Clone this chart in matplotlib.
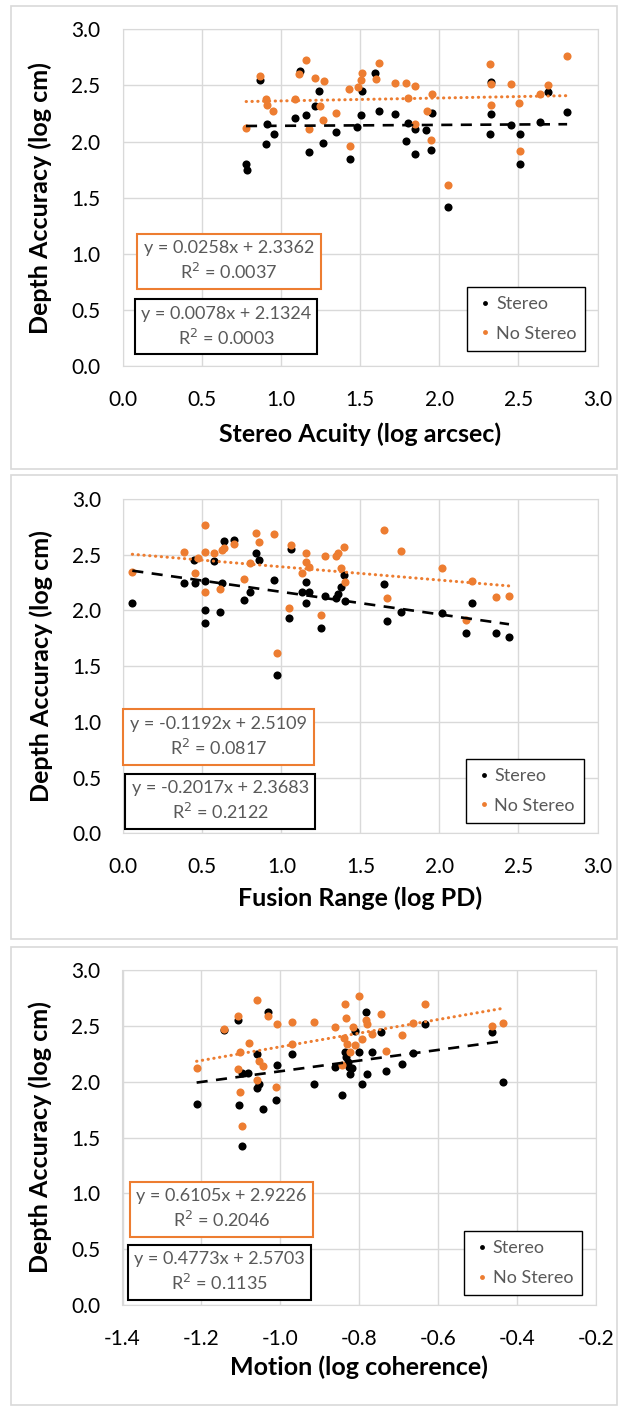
import matplotlib
matplotlib.use("Agg")
import matplotlib.pyplot as plt
from matplotlib.patches import Rectangle
import numpy as np

plt.rcParams['font.family'] = ['Lato', 'DejaVu Sans']

ORANGE = '#ED7D31'
GRAY_TXT = '#595959'
GRID = '#d9d9d9'

# ---- panel 1: stereo acuity ----
acuity_stereo_x = [0.779, 0.788, 0.865, 0.910, 0.905, 0.953, 1.088, 1.119, 1.158, 1.178,
                   1.214, 1.243, 1.268, 1.347, 1.437, 1.482, 1.505, 1.511, 1.597, 1.617,
                   1.721, 1.791, 1.800, 1.845, 1.849, 1.917, 1.948, 1.953, 2.054, 2.323,
                   2.326, 2.326, 2.452, 2.508, 2.511, 2.637, 2.687, 2.808]
acuity_stereo_y = [1.796, 1.749, 2.550, 2.157, 1.976, 2.065, 2.207, 2.627, 2.234, 1.905,
                   2.314, 2.450, 1.988, 2.086, 1.840, 2.130, 2.240, 2.450, 2.615, 2.269,
                   2.249, 2.003, 2.163, 1.885, 2.112, 2.107, 1.926, 2.254, 1.420, 2.069,
                   2.249, 2.527, 2.149, 2.069, 1.796, 2.173, 2.445, 2.261]
acuity_nostereo_x = [0.780, 0.866, 0.905, 0.914, 0.952, 1.087, 1.117, 1.157, 1.180, 1.216,
                     1.245, 1.263, 1.270, 1.347, 1.432, 1.439, 1.484, 1.507, 1.511, 1.599,
                     1.620, 1.723, 1.793, 1.802, 1.848, 1.848, 1.920, 1.951, 1.956, 2.057,
                     2.323, 2.326, 2.328, 2.452, 2.506, 2.510, 2.637, 2.686, 2.808]
acuity_nostereo_y = [2.121, 2.583, 2.380, 2.329, 2.270, 2.380, 2.598, 2.725, 2.111, 2.569,
                     2.320, 2.188, 2.542, 2.258, 2.468, 1.957, 2.486, 2.548, 2.613, 2.560,
                     2.696, 2.524, 2.524, 2.391, 2.494, 2.152, 2.276, 2.013, 2.424, 1.612,
                     2.687, 2.513, 2.329, 2.516, 2.341, 1.913, 2.427, 2.507, 2.763]

# ---- panel 2: fusion range ----
fusion_stereo_x = [0.057, 0.387, 0.451, 0.446, 0.519, 0.519, 0.519, 0.576, 0.612, 0.623,
                   0.637, 0.698, 0.761, 0.800, 0.838, 0.859, 0.952, 0.975, 1.049, 1.060,
                   1.133, 1.153, 1.158, 1.176, 1.251, 1.276, 1.344, 1.357, 1.380, 1.394,
                   1.405, 1.647, 1.668, 1.754, 2.014, 2.169, 2.209, 2.359, 2.440]
fusion_stereo_y = [2.069, 2.247, 2.247, 2.452, 2.262, 2.007, 1.885, 2.443, 1.986, 2.247,
                   2.621, 2.629, 2.096, 2.164, 2.517, 2.452, 2.271, 1.417, 1.930, 2.549,
                   2.161, 2.259, 2.066, 2.161, 1.838, 2.131, 2.114, 2.149, 2.208, 2.315,
                   2.087, 2.235, 1.903, 1.983, 1.977, 1.796, 2.069, 1.796, 1.761]
fusion_nostereo_x = [0.057, 0.387, 0.451, 0.474, 0.519, 0.519, 0.519, 0.576, 0.612, 0.623,
                     0.637, 0.698, 0.761, 0.800, 0.838, 0.859, 0.952, 0.974, 1.049, 1.060,
                     1.133, 1.153, 1.158, 1.176, 1.251, 1.276, 1.344, 1.357, 1.380, 1.394,
                     1.405, 1.647, 1.668, 1.754, 2.014, 2.169, 2.209, 2.359, 2.440]
fusion_nostereo_y = [2.345, 2.526, 2.333, 2.472, 2.763, 2.526, 2.161, 2.511, 2.191, 2.540,
                     2.561, 2.594, 2.280, 2.428, 2.695, 2.615, 2.689, 1.616, 2.019, 2.585,
                     2.333, 2.437, 2.517, 2.392, 1.959, 2.487, 2.490, 2.517, 2.383, 2.570,
                     2.259, 2.724, 2.114, 2.535, 2.380, 1.912, 2.268, 2.122, 2.131]

# ---- panel 3: motion coherence ----
motion_stereo_x = [-1.212, -1.143, -1.108, -1.105, -1.097, -1.096, -1.081, -1.060, -1.058, -1.055,
                   -1.044, -1.030, -1.010, -1.008, -0.971, -0.915, -0.861, -0.843, -0.837, -0.832,
                   -0.829, -0.826, -0.822, -0.819, -0.811, -0.799, -0.793, -0.782, -0.781, -0.768,
                   -0.745, -0.733, -0.692, -0.663, -0.633, -0.463, -0.435]
motion_stereo_y = [1.796, 2.463, 2.549, 1.787, 2.075, 1.420, 2.075, 2.244, 1.942, 1.980,
                   1.752, 2.626, 1.832, 2.149, 2.247, 1.980, 2.131, 1.879, 2.268, 2.223,
                   2.179, 2.131, 2.066, 2.119, 2.452, 2.265, 1.980, 2.623, 2.069, 2.265,
                   2.443, 2.099, 2.161, 2.256, 2.517, 2.443, 2.001]
motion_nostereo_x = [-1.212, -1.143, -1.106, -1.101, -1.106, -1.103, -1.096, -1.080, -1.060, -1.058,
                     -1.055, -1.044, -1.030, -1.008, -1.010, -0.971, -0.971, -0.915, -0.861, -0.837,
                     -0.832, -0.838, -0.830, -0.843, -0.822, -0.815, -0.811, -0.799, -0.793, -0.782,
                     -0.779, -0.768, -0.745, -0.733, -0.692, -0.663, -0.633, -0.463, -0.435]
motion_nostereo_y = [2.125, 2.472, 2.585, 2.265, 2.114, 1.906, 1.604, 2.345, 2.730, 2.013,
                     2.185, 2.137, 2.591, 2.517, 1.950, 2.535, 2.333, 2.535, 2.490, 2.692,
                     2.573, 2.392, 2.333, 2.149, 2.268, 2.490, 2.327, 2.766, 2.380, 2.555,
                     2.514, 2.425, 2.609, 2.277, 2.416, 2.526, 2.692, 2.499, 2.526]

x_titles = ['Stereo Acuity (log arcsec)', 'Fusion Range (log PD)', 'Motion (log coherence)']
y_title = 'Depth Accuracy (log cm)'
# trendline equations shown on the chart: (slope, intercept, R2)
fit_stereo = [(0.0078, 2.1324, '0.0003'), (-0.2017, 2.3683, '0.2122'), (0.4773, 2.5703, '0.1135')]
fit_nostereo = [(0.0258, 2.3362, '0.0037'), (-0.1192, 2.5109, '0.0817'), (0.6105, 2.9226, '0.2046')]

fig = plt.figure(figsize=(6.26, 14.08), dpi=100)
W, H = 626.0, 1408.0

# panel geometry in pixels: (left, right, top, bottom) of plot area, box top/bottom
plot_px = [(122.7, 597.5, 29.3, 366.0), (123.3, 597.5, 499.0, 833.3), (122.5, 595.7, 970.0, 1305.0)]
box_px = [(5.7, 469.0), (475.0, 939.0), (946.7, 1405.0)]
xlabel_drop = [71, 68, 65]
xlims = [(0, 3), (0, 3), (-1.4, -0.2)]
xticks = [np.arange(0, 3.01, 0.5), np.arange(0, 3.01, 0.5), np.arange(-1.4, -0.19, 0.2)]
# annotation boxes in data coords: orange eq box, black eq box, legend centre
orange_box = [(0.09, 0.683, 1.16, 0.497), (0.0, 0.617, 1.205, 0.496), (-1.381, 0.612, 0.465, 0.488)]
black_box = [(0.078, 0.104, 1.152, 0.494), (0.013, 0.04, 1.202, 0.496), (-1.385, 0.047, 0.462, 0.494)]
legend_ctr = [(2.55, 0.42), (2.54, 0.38), (-0.384, 0.375)]

data = [
    (acuity_stereo_x, acuity_stereo_y, acuity_nostereo_x, acuity_nostereo_y),
    (fusion_stereo_x, fusion_stereo_y, fusion_nostereo_x, fusion_nostereo_y),
    (motion_stereo_x, motion_stereo_y, motion_nostereo_x, motion_nostereo_y),
]

for i in range(3):
    l, r, t, b = plot_px[i]
    bt, bb = box_px[i]
    fig.add_artist(Rectangle((11 / W, 1 - bb / H), (617 - 11) / W, (bb - bt) / H,
                             transform=fig.transFigure, fill=False, edgecolor=GRID, lw=1.2))
    ax = fig.add_axes([l / W, 1 - b / H, (r - l) / W, (b - t) / H])
    sx, sy, nx_, ny = data[i]

    ax.scatter(sx, sy, s=34, color='black', zorder=3, label='Stereo', linewidths=0)
    ax.scatter(nx_, ny, s=34, color=ORANGE, zorder=4, label='No Stereo', linewidths=0)

    m, c, _ = fit_stereo[i]
    xs = np.array([min(sx), max(sx)])
    ax.plot(xs, m * xs + c, color='black', lw=1.9, ls=(0, (4.2, 3.2)), zorder=5)
    m, c, _ = fit_nostereo[i]
    xs = np.array([min(nx_), max(nx_)])
    ax.plot(xs, m * xs + c, color=ORANGE, lw=2.2, ls=(0, (0.1, 1.8)),
            dash_capstyle='round', zorder=5)

    ax.set_xlim(*xlims[i])
    ax.set_ylim(0, 3)
    ax.set_xticks(xticks[i])
    ax.set_yticks(np.arange(0, 3.01, 0.5))
    ax.xaxis.set_major_formatter(matplotlib.ticker.FormatStrFormatter('%.1f'))
    ax.yaxis.set_major_formatter(matplotlib.ticker.FormatStrFormatter('%.1f'))
    ax.tick_params(length=0, labelsize=15, pad=16, colors='black')
    ax.tick_params(axis='x', pad=17)
    ax.grid(True, color=GRID, lw=1)
    ax.set_axisbelow(True)
    for sp in ax.spines.values():
        sp.set_color(GRID)

    ax.set_xlabel(x_titles[i], fontsize=18, fontweight='bold')
    ax.xaxis.set_label_coords(0.5, -(xlabel_drop[i] - 15) / (b - t))
    ax.set_ylabel(y_title, fontsize=18, fontweight='bold')
    ax.yaxis.set_label_coords(-0.148, 0.5)

    # equation boxes
    for (bx, by, bw, bh), fit, ec in ((orange_box[i], fit_nostereo[i], ORANGE),
                                       (black_box[i], fit_stereo[i], 'black')):
        ax.add_patch(Rectangle((bx, by), bw, bh, fill=True, facecolor='white',
                               edgecolor=ec, lw=1.5, zorder=6, clip_on=False))
        m, c, r2 = fit
        ax.text(bx + bw / 2, by + bh / 2, f'y = {m:.4f}x + {c:.4f}\nR$^2$ = {r2}',
                ha='center', va='center', fontsize=13, color=GRAY_TXT,
                linespacing=1.35, zorder=7)

    leg = ax.legend(loc='center', bbox_to_anchor=legend_ctr[i], bbox_transform=ax.transData,
                    fontsize=13, markerscale=0.6, handletextpad=0.1, handlelength=1.0,
                    labelspacing=0.75, borderpad=0.5, fancybox=False, framealpha=1,
                    edgecolor='black', scatteryoffsets=[0.5])
    leg.get_frame().set_linewidth(1.0)
    for txt in leg.get_texts():
        txt.set_color(GRAY_TXT)

fig.savefig('out.png', dpi=100)
